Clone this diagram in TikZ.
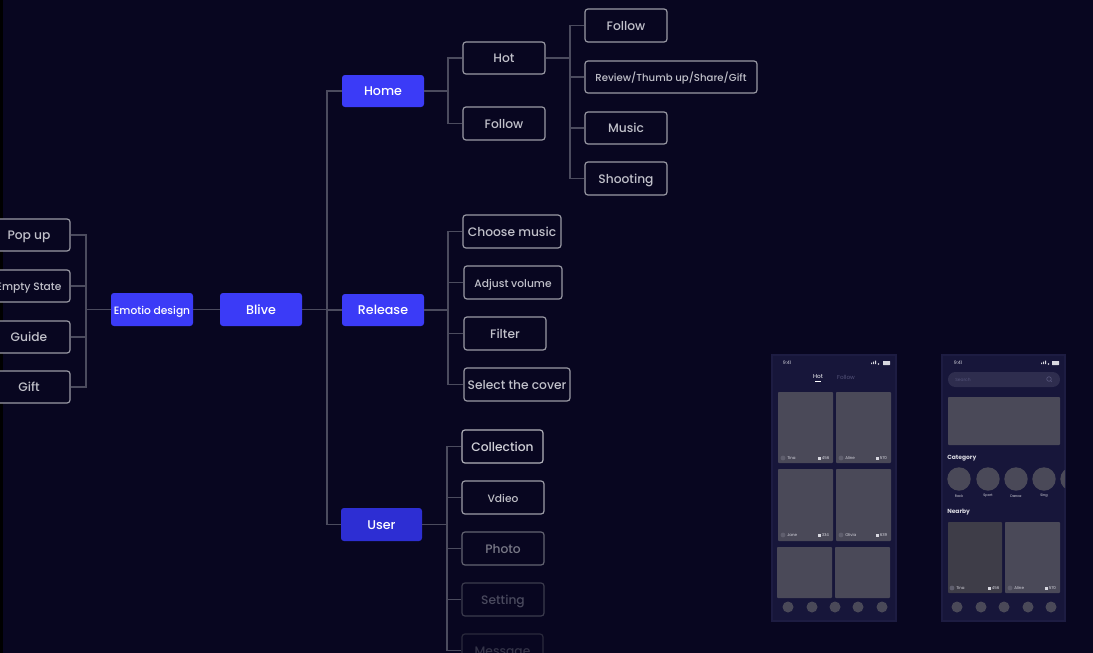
\documentclass[tikz,border=0pt]{standalone}
\usepackage{fontspec}
\setmainfont{Poppins}
\newfontfamily\pmed{Poppins Medium}
\usetikzlibrary{calc}
\definecolor{bg}{HTML}{080620}
\definecolor{blueA}{HTML}{3B3BF7}
\definecolor{blueB}{HTML}{2D2ED3}
\definecolor{bord}{HTML}{9A9AA5}
\definecolor{txt}{HTML}{C0C0C9}
\definecolor{conn}{HTML}{4B4B5E}
\definecolor{phone}{HTML}{17163A}
\definecolor{phoneedge}{HTML}{1D1C42}
\definecolor{card}{HTML}{4A4958}
\definecolor{cardd}{HTML}{3E3D48}
\definecolor{dim}{HTML}{55547A}
\definecolor{ptxt}{HTML}{D8D8E0}
\definecolor{avatar}{HTML}{605F6E}
\definecolor{searchbg}{HTML}{2E2D4E}
\definecolor{bordC}{HTML}{B3B3BB}
\definecolor{txtC}{HTML}{D1D1D8}
\definecolor{bordV}{HTML}{9E9EA8}
\definecolor{txtV}{HTML}{BFBFC6}
\definecolor{bordP}{HTML}{646472}
\definecolor{txtP}{HTML}{787886}
\definecolor{bordS}{HTML}{3C3C4E}
\definecolor{txtS}{HTML}{4A4A5E}
\definecolor{bordM}{HTML}{2A2A3C}
\definecolor{txtM}{HTML}{343448}
\begin{document}
\begin{tikzpicture}[x=0.75pt,y=-0.75pt,
  box/.style={draw=bord, line width=0.9pt, fill=bg, text=txt, rounded corners=2.2pt, inner sep=0pt, text height=0.7em, text depth=0pt, font=\fontsize{9.2}{11}\selectfont\pmed},
  bluebox/.style={fill=blueA, text=white, rounded corners=2.2pt, inner sep=0pt, text height=0.7em, text depth=0pt, font=\fontsize{9.5}{11}\selectfont\pmed},
  wh/.style 2 args={minimum width=#1*0.75pt, minimum height=#2*0.75pt},
  small/.style={font=\fontsize{8}{10}\selectfont\pmed},
  link/.style={draw=conn, line width=0.8pt},
  tiny/.style={inner sep=0pt, text=ptxt, font=\fontsize{3}{3}\selectfont},
]
\useasboundingbox (0,0) rectangle (1093,653);
\clip (0,0) rectangle (1093,653);
\fill[bg] (0,0) rectangle (1093,653);
\fill[black] (0,0) rectangle (3,653);

% ---- left branch
\node[box, wh={82}{32}] (popup) at (29,235) {Pop up};
\node[box, wh={82}{32}, small] (empty) at (29,286) {Empty State};
\node[box, wh={82}{32}] (guide) at (29,337) {Guide};
\node[box, wh={82}{32}] (gift) at (29,387) {Gift};
\node[bluebox, wh={82}{33}, small] (emotio) at (152,309.5) {Emotio design};
\node[bluebox, wh={82}{33}] (blive) at (261,309.5) {Blive};
\coordinate (lj) at (86,309.5);
\draw[link] (emotio.west) -- (lj);
\draw[link] (lj) |- (popup.east);
\draw[link] (lj) |- (empty.east);
\draw[link] (lj) |- (guide.east);
\draw[link] (lj) |- (gift.east);
\draw[link] (emotio.east) -- (blive.west);

% ---- main branches
\node[bluebox, wh={82}{32}] (home) at (383,91) {Home};
\node[bluebox, wh={82}{32}] (release) at (383,310) {Release};
\node[bluebox, fill=blueB, wh={81}{33}] (user) at (381.5,524.5) {User};
\coordinate (tj) at (327,309.5);
\draw[link] (blive.east) -- (tj);
\draw[link] (tj) |- (home.west);
\draw[link] (tj) |- (user.west);
\draw[link] (tj) |- (release.west);

% ---- home
\node[box, wh={82}{32}] (hot) at (504,58) {Hot};
\node[box, wh={82}{33}] (hfollow) at (504,123.5) {Follow};
\coordinate (hj) at (448,91);
\draw[link] (home.east) -- (hj);
\draw[link] (hj) |- (hot.west);
\draw[link] (hj) |- (hfollow.west);

\node[box, wh={82}{33}] (follow) at (626,25.5) {Follow};
\node[box, wh={172}{32}, font=\fontsize{7.6}{9}\selectfont\pmed] (review) at (671,77) {Review/Thumb up/Share/Gift};
\node[box, wh={82}{32}] (music) at (626,128) {Music};
\node[box, wh={82}{33}] (shooting) at (626,178.5) {Shooting};
\coordinate (tj2) at (570,58);
\draw[link] (hot.east) -- (tj2);
\draw[link] (tj2) |- (follow.west);
\draw[link] (tj2) |- (review.west);
\draw[link] (tj2) |- (music.west);
\draw[link] (tj2) |- (shooting.west);

% ---- release
\node[box, wh={98}{33}] (choose) at (512,231.5) {Choose music};
\node[box, wh={98}{33}, small] (adjust) at (513,282.5) {Adjust volume};
\node[box, wh={82}{33}] (filter) at (505,333.5) {Filter};
\node[box, wh={106}{33}] (select) at (517,384.5) {Select the cover};
\coordinate (rj) at (448,310);
\draw[link] (release.east) -- (rj);
\draw[link] (rj) |- (choose.west);
\draw[link] (rj) |- (adjust.west);
\draw[link] (rj) |- (filter.west);
\draw[link] (rj) |- (select.west);

% ---- user
\node[box, draw=bordC, text=txtC, wh={81}{33}] (collection) at (502.5,446.5) {Collection};
\node[box, draw=bordV, text=txtV, wh={82}{33}, small] (video) at (503,497.5) {Vdieo};
\node[box, draw=bordP, text=txtP, wh={82}{33}] (photo) at (503,548.5) {Photo};
\node[box, draw=bordS, text=txtS, wh={82}{33}] (setting) at (503,599.5) {Setting};
\node[box, draw=bordM, text=txtM, wh={81}{33}] (message) at (502.5,650.5) {Message};
\coordinate (uj) at (447,524.5);
\draw[link] (user.east) -- (uj);
\draw[link] (uj) |- (collection.west);
\draw[link] (uj) |- (video.west);
\draw[link] (uj) |- (photo.west);
\draw[link] (uj) |- (setting.west);
\draw[link] (uj) |- (message.west);

% ---- phone 1
\fill[phone, draw=phoneedge, line width=0.8pt] (772,355) rectangle (896,621);
\node[tiny, font=\fontsize{3.5}{4}\selectfont] at (787,363) {9:41};
\fill[ptxt] (871,364) rectangle (872,362.5) (873,364) rectangle (874,361.5) (875,364) rectangle (876,360.5);
\fill[ptxt] (878.5,364) circle (0.8);
\fill[ptxt, rounded corners=0.3pt] (883,361) rectangle (890,365);
\node[inner sep=0pt, text=white, font=\fontsize{4.3}{5}\selectfont] at (818,377) {Hot};
\draw[white, line width=0.8pt] (815,381.5) -- (821,381.5);
\node[inner sep=0pt, text=dim, font=\fontsize{4.3}{5}\selectfont] at (846,377) {Follow};
\foreach \xa/\xb in {778/833, 836/891}{
  \fill[card, rounded corners=0.6pt] (\xa,392) rectangle (\xb,463);
  \fill[card, rounded corners=0.6pt] (\xa,469) rectangle (\xb,541);
}
\fill[card, rounded corners=0.6pt] (777,547) rectangle (832,598);
\fill[card, rounded corners=0.6pt] (835,547) rectangle (890,598);
\foreach \ax/\nm/\ix/\num/\yy in {783/Tina/819/456/458, 841/Aline/877/570/458, 783/Jane/819/334/535, 841/Olivia/877/639/535}{
  \fill[avatar] (\ax,\yy) circle (2.4);
  \node[tiny, anchor=west] at (\ax+4,\yy) {\nm};
  \fill[ptxt] (\ix-1.5,\yy-1.5) rectangle (\ix+1.5,\yy+1.5);
  \node[tiny, anchor=west] at (\ix+2.5,\yy) {\num};
}
\foreach \dx in {788,812,835,858,882}{
  \fill[card] (\dx,607) circle (5.5);
}

% ---- phone 2
\fill[phone, draw=phoneedge, line width=0.8pt] (942,355) rectangle (1065,621);
\node[tiny, font=\fontsize{3.5}{4}\selectfont] at (958,363) {9:41};
\fill[ptxt] (1041,364) rectangle (1042,362.5) (1043,364) rectangle (1044,361.5) (1045,364) rectangle (1046,360.5);
\fill[ptxt] (1048.5,364) circle (0.8);
\fill[ptxt, rounded corners=0.3pt] (1052,361) rectangle (1059,365);
\fill[searchbg, rounded corners=5.5pt] (948,372) rectangle (1060,387);
\node[tiny, text=dim, anchor=west, font=\fontsize{3.3}{4}\selectfont] at (955,379.5) {Search};
\draw[dim, line width=0.5pt] (1049,379) circle (2.3) (1050.6,380.6) -- (1052,382);
\fill[card, rounded corners=0.6pt] (948,397) rectangle (1060,445);
\node[inner sep=0pt, anchor=west, text=ptxt, font=\fontsize{4.5}{5}\selectfont\bfseries] at (947,458) {Category};
\begin{scope}
  \clip (942,355) rectangle (1065,621);
  \foreach \cx/\lb in {959/Rock, 988/Sport, 1016/Dance, 1044/Sing, 1072/Walk}{
    \fill[card] (\cx,479) circle (11.7);
    \node[tiny, font=\fontsize{2.6}{3}\selectfont] at (\cx,496) {\lb};
  }
\end{scope}
\node[inner sep=0pt, anchor=west, text=ptxt, font=\fontsize{4.5}{5}\selectfont\bfseries] at (947,512) {Nearby};
\fill[cardd, rounded corners=0.6pt] (948,522) rectangle (1002,593);
\fill[card, rounded corners=0.6pt] (1005,522) rectangle (1060,593);
\foreach \ax/\nm/\ix/\num in {952/Tina/989/456, 1010/Aline/1046/570}{
  \fill[avatar] (\ax,588) circle (2.4);
  \node[tiny, anchor=west] at (\ax+4,588) {\nm};
  \fill[ptxt] (\ix-1.5,586.5) rectangle (\ix+1.5,589.5);
  \node[tiny, anchor=west] at (\ix+2.5,588) {\num};
}
\foreach \dx in {957,981,1004,1028,1051}{
  \fill[card] (\dx,607) circle (5.5);
}
\end{tikzpicture}
\end{document}
